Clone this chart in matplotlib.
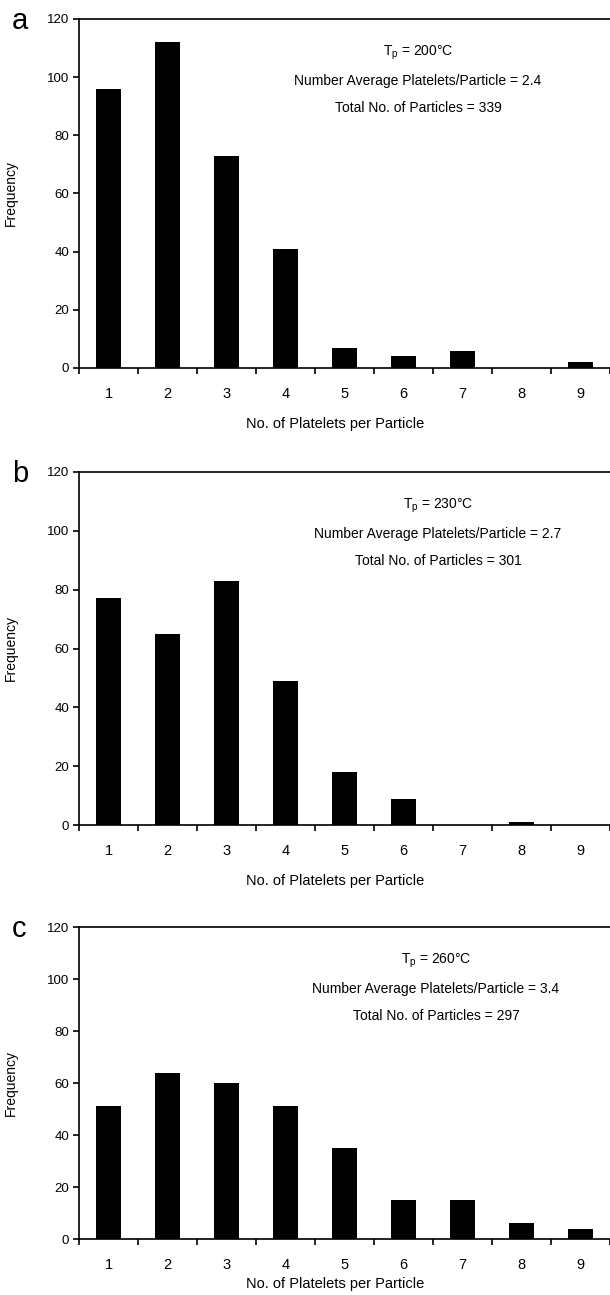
import matplotlib
matplotlib.use('Agg')
import matplotlib.pyplot as plt
import numpy as np

plt.rcParams['font.family'] = ['Liberation Sans', 'DejaVu Sans']
plt.rcParams['mathtext.fontset'] = 'custom'
plt.rcParams['mathtext.rm'] = 'Liberation Sans'

# platelets per particle
platelets = [1, 2, 3, 4, 5, 6, 7, 8, 9]
freq_a = [96, 112, 73, 41, 7, 4, 6, 0, 2]
freq_b = [77, 65, 83, 49, 18, 9, 0, 1, 0]
freq_c = [51, 64, 60, 51, 35, 15, 15, 6, 4]
letters = ['a', 'b', 'c']
temps = ['200', '230', '260']
avgs = ['2.4', '2.7', '3.4']
totals = ['339', '301', '297']

W, H = 610, 1295
fig = plt.figure(figsize=(W/100, H/100), dpi=100)

# (top px, bottom px) of each panel
panels = [(19, 368), (472, 825), (927, 1239)]
text_x = [418, 438, 436]
label_off = [49, 49, 38]
left = 79
step = 59.8

for i, freq in enumerate([freq_a, freq_b, freq_c]):
    top, bot = panels[i]
    ax = fig.add_axes([left/W, 1-bot/H, (W-left)/W, (bot-top)/H])
    ax.bar(platelets, freq, width=0.43, color='black')
    ax.set_xlim(0.5, 0.5 + (W-left)/step)
    ax.set_ylim(0, 120)
    ax.spines['right'].set_visible(False)
    for s in ['left', 'bottom', 'top']:
        ax.spines[s].set_linewidth(1.2)
    ax.set_xticks(platelets)
    ax.set_xticklabels([str(p) for p in platelets], fontsize=10.5)
    ax.set_xticks(np.arange(0.5, 10.5, 1), minor=True)
    ax.tick_params(axis='x', which='major', length=0, pad=14)
    ax.tick_params(axis='x', which='minor', length=4, width=1.2, direction='out')
    ax.set_yticks(range(0, 121, 20))
    ax.tick_params(axis='y', length=4, width=1.2, labelsize=9.5, pad=3)
    ax.set_xlabel('No. of Platelets per Particle', fontsize=10.5)
    ax.xaxis.set_label_coords((335-left)/(W-left), -label_off[i]/(bot-top))
    ax.set_ylabel('Frequency', fontsize=10)
    ax.yaxis.set_label_coords(-(left-18)/(W-left), 0.5)

    tx = text_x[i]
    ty = top + 34
    fig.text(tx/W, 1-ty/H, 'T$_\\mathrm{p}$ = ' + temps[i] + '°C', ha='center', va='center', fontsize=10)
    fig.text(tx/W, 1-(ty+28)/H, 'Number Average Platelets/Particle = ' + avgs[i], ha='center', va='center', fontsize=10)
    fig.text(tx/W, 1-(ty+55)/H, 'Total No. of Particles = ' + totals[i], ha='center', va='center', fontsize=10)
    fig.text(12/W, 1-(top+2)/H, letters[i], ha='left', va='center', fontsize=21)

fig.savefig('out.png', dpi=100)
